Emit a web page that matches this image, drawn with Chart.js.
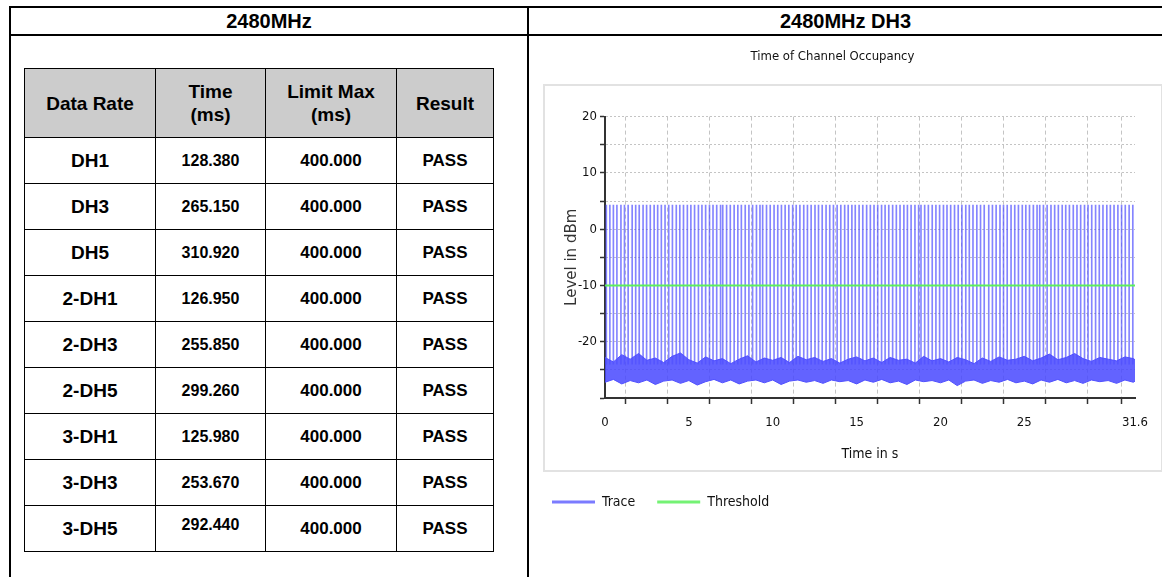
<!DOCTYPE html>
<html>
<head>
<meta charset="utf-8">
<script src="https://cdn.jsdelivr.net/npm/chart.js@4.4.0/dist/chart.umd.min.js"></script>
<style>
  body { margin: 0; background: #fff; width: 1162px; height: 577px; overflow: hidden; position: relative; font-family: 'Liberation Sans', Arial, sans-serif; }
  .rule { position: absolute; background: #000; }
  .head { position: absolute; top: 8px; height: 26px; line-height: 26px; text-align: center; font-weight: bold; font-size: 20px; color: #000; }
  table.res { position: absolute; left: 24px; top: 68px; border-collapse: collapse; table-layout: fixed; font-weight: bold; color: #000; }
  table.res td { border: 1px solid #000; text-align: center; padding: 0; }
  table.res tr.hdr td { background: #cccccc; height: 68px; font-size: 19px; line-height: 23px; }
  table.res tr.row td { height: 45px; }
  td.rate { font-size: 19px; }
  td.time { font-size: 16px; }
  td.limit { font-size: 17px; }
  td.result { font-size: 17px; }
  td.raised { vertical-align: top; padding-top: 10px !important; height: 35px !important; }
  #box { position: absolute; left: 543px; top: 84px; width: 616px; height: 384px; border: 2px solid #e2e2e2; background: #fff; }
  #chart { position: absolute; left: 530px; top: 40px; }
</style>
</head>
<body>
<div class="rule" style="left:9px;top:6px;width:1160px;height:2px"></div>
<div class="rule" style="left:9px;top:34px;width:1160px;height:2px"></div>
<div class="rule" style="left:9px;top:6px;width:2px;height:580px"></div>
<div class="rule" style="left:527px;top:6px;width:2px;height:580px"></div>
<div class="head" style="left:11px;width:516px">2480MHz</div>
<div class="head" style="left:529px;width:633px">2480MHz DH3</div>

<table class="res" id="results">
  <colgroup><col style="width:131px"><col style="width:110px"><col style="width:131px"><col style="width:97px"></colgroup>
  <tr class="hdr"><td>Data Rate</td><td>Time<br>(ms)</td><td>Limit Max<br>(ms)</td><td>Result</td></tr>
</table>

<div id="box"></div>
<canvas id="chart" width="632" height="537"></canvas>

<script>
// table values
const dataRates = ['DH1', 'DH3', 'DH5', '2-DH1', '2-DH3', '2-DH5', '3-DH1', '3-DH3', '3-DH5'];
const timesMs = ['128.380', '265.150', '310.920', '126.950', '255.850', '299.260', '125.980', '253.670', '292.440'];
const limitsMs = ['400.000', '400.000', '400.000', '400.000', '400.000', '400.000', '400.000', '400.000', '400.000'];
const results = ['PASS', 'PASS', 'PASS', 'PASS', 'PASS', 'PASS', 'PASS', 'PASS', 'PASS'];

// chart axes
const xTicks = [0, 2.5, 5, 7.5, 10, 12.5, 15, 17.5, 20, 22.5, 25, 27.5, 30, 31.6];
const xLabels = [0, 5, 10, 15, 20, 25, 31.6];
const yTicks = [-30, -25, -20, -15, -10, -5, 0, 5, 10, 15, 20];
const yLabels = [-20, -10, 0, 10, 20];

// burst positions in seconds
const pulseTimes = [
    0.08, 0.29, 0.50, 0.71, 0.95, 1.16, 1.38, 1.62, 1.83, 2.04,
    2.27, 2.48, 2.70, 2.93, 3.14, 3.36, 3.58, 3.80, 4.02, 4.25,
    4.46, 4.68, 4.91, 5.12, 5.34, 5.57, 5.78, 6.00, 6.23, 6.44,
    6.66, 6.89, 7.02, 7.25, 7.47, 7.70, 7.92, 8.13, 8.36, 8.58,
    8.80, 9.03, 9.24, 9.40, 9.63, 9.85, 10.08, 10.30, 10.52, 10.74,
    10.96, 11.19, 11.40, 11.62, 11.85, 12.07, 12.29, 12.52, 12.73, 12.95,
    13.18, 13.40, 13.62, 13.84, 14.06, 14.29, 14.50, 14.72, 14.92, 15.15,
    15.37, 15.60, 15.82, 16.04, 16.26, 16.49, 16.70, 16.92, 17.15, 17.37,
    17.59, 17.82, 18.03, 18.25, 18.48, 18.70, 18.84, 19.06, 19.28, 19.51,
    19.73, 19.95, 20.18, 20.39, 20.61, 20.84, 21.06, 21.28, 21.51, 21.72,
    21.94, 22.17, 22.39, 22.61, 22.88, 23.10, 23.32, 23.55, 23.76, 23.98,
    24.21, 24.43, 24.65, 24.88, 25.09, 25.31, 25.54, 25.76, 25.92, 26.14,
    26.36, 26.59, 26.81, 27.03, 27.26, 27.47, 27.69, 27.92, 28.14, 28.36,
    28.59, 28.80, 29.02, 29.25, 29.47, 29.69, 29.92, 30.13, 30.35, 30.58,
    30.80, 31.02, 31.25, 31.47
];
const pulseLevel = [-24, 4.3];   // floor -> peak, dBm

// noise floor envelope
const noiseTimes = [
    0, 0.5, 1, 1.5, 2, 2.5, 3, 3.5, 4, 4.5,
    5, 5.5, 6, 6.5, 7, 7.5, 8, 8.5, 9, 9.5,
    10, 10.5, 11, 11.5, 12, 12.5, 13, 13.5, 14, 14.5,
    15, 15.5, 16, 16.5, 17, 17.5, 18, 18.5, 19, 19.5,
    20, 20.5, 21, 21.5, 22, 22.5, 23, 23.5, 24, 24.5,
    25, 25.5, 26, 26.5, 27, 27.5, 28, 28.5, 29, 29.5,
    30, 30.5, 31, 31.5, 31.6
];
const noiseHigh = [
    -22.8, -23.6, -22.3, -23.1, -22.1, -23.3, -22.9, -23.7, -22.6, -22.0,
    -23.2, -23.8, -22.7, -23.4, -23.0, -23.9, -23.1, -22.5, -23.6, -22.9,
    -23.3, -22.8, -23.7, -22.6, -23.2, -22.8, -23.5, -23.0, -23.8, -23.1,
    -22.7, -23.4, -22.9, -23.7, -22.8, -23.3, -23.1, -23.8, -22.6, -23.4,
    -23.0, -23.6, -22.8, -23.2, -23.9, -22.9, -23.5, -22.7, -23.3, -23.1,
    -22.6, -23.4, -22.9, -22.2, -23.2, -22.8, -22.1, -23.0, -23.5, -22.8,
    -23.1, -23.4, -22.7, -23.0, -23.2
];
const noiseLow = [
    -27.2, -26.7, -27.5, -26.9, -27.3, -26.8, -27.6, -27.0, -26.8, -27.4,
    -26.9, -27.7, -27.1, -26.7, -27.3, -26.8, -27.5, -27.0, -26.8, -27.3,
    -26.8, -27.6, -27.0, -26.8, -27.2, -26.9, -27.4, -26.8, -27.1, -26.9,
    -27.5, -26.8, -27.2, -26.7, -27.3, -27.0, -27.6, -26.8, -27.1, -26.9,
    -27.3, -26.8, -27.8, -27.0, -26.8, -27.4, -26.9, -27.2, -26.7, -27.3,
    -27.0, -27.5, -26.8, -27.2, -26.7, -27.3, -26.9, -27.4, -26.8, -27.1,
    -26.9, -27.4, -26.8, -27.2, -27.0
];

const thresholdTimes = [0, 31.6];
const thresholdLevel = [-10, -10];

const legendNames = ['Trace', 'Threshold'];

// ---- result table ----
const table = document.getElementById('results');
dataRates.forEach((rate, i) => {
    const tr = document.createElement('tr');
    tr.className = 'row';
    const last = i === dataRates.length - 1;
    tr.innerHTML = `
        <td class="rate">${rate}</td>
        <td class="time${last ? ' raised' : ''}">${timesMs[i]}</td>
        <td class="limit">${limitsMs[i]}</td>
        <td class="result">${results[i]}</td>`;
    table.appendChild(tr);
});

// ---- chart ----
const NARROW = "'Liberation Sans Narrow', 'DejaVu Sans Condensed', sans-serif";
Chart.defaults.font.family = NARROW;
Chart.defaults.color = '#111';

const legendColors = ['#7b7bff', '#74f274'];

const ctx = document.getElementById('chart').getContext('2d');
new Chart(ctx, {
    type: 'line',
    data: {
        datasets: [
            {
                type: 'bar',
                label: 'Trace',
                data: pulseTimes.map(t => ({ x: t, y: pulseLevel })),
                backgroundColor: 'rgba(80, 80, 255, 0.7)',
                borderWidth: 0,
                barThickness: 1
            },
            {
                label: 'noise-high',
                data: noiseTimes.map((t, i) => ({ x: t, y: noiseHigh[i] })),
                borderColor: '#5050ff',
                borderWidth: 1,
                pointRadius: 0,
                fill: false
            },
            {
                label: 'noise-low',
                data: noiseTimes.map((t, i) => ({ x: t, y: noiseLow[i] })),
                borderColor: '#5050ff',
                backgroundColor: 'rgba(72, 72, 255, 0.85)',
                borderWidth: 1,
                pointRadius: 0,
                fill: '-1'
            },
            {
                label: 'Threshold',
                data: thresholdTimes.map((t, i) => ({ x: t, y: thresholdLevel[i] })),
                borderColor: '#5cf05c',
                backgroundColor: '#5cf05c',
                borderWidth: 2,
                pointRadius: 0,
                order: -1
            }
        ]
    },
    options: {
        responsive: false,
        animation: false,
        devicePixelRatio: 1,
        layout: { padding: { left: 0, right: 27, top: 0, bottom: 58 } },
        plugins: {
            title: {
                display: true,
                text: 'Time of Channel Occupancy',
                color: '#111',
                font: { size: 13, weight: 'normal' },
                padding: { top: 9, bottom: 52 }
            },
            legend: {
                position: 'bottom',
                align: 'start',
                labels: {
                    boxWidth: 43,
                    boxHeight: 3,
                    padding: 22,
                    color: '#111',
                    font: { size: 14 },
                    generateLabels: chart => Chart.defaults.plugins.legend.labels.generateLabels(chart)
                        .filter(it => legendNames.includes(it.text))
                        .sort((a, b) => a.datasetIndex - b.datasetIndex)
                        .map(it => Object.assign(it, { lineWidth: 0, fillStyle: legendColors[legendNames.indexOf(it.text)] }))
                }
            },
            tooltip: { enabled: false }
        },
        scales: {
            x: {
                type: 'linear',
                min: 0,
                max: 31.6,
                offset: false,
                afterBuildTicks: s => { s.ticks = xTicks.map(v => ({ value: v })); },
                afterFit: s => { s.height = 75; },
                ticks: {
                    autoSkip: false,
                    maxRotation: 0,
                    padding: 11,
                    color: '#111',
                    font: { size: 13 },
                    callback: v => xLabels.includes(v) ? String(v) : ''
                },
                grid: { color: '#c4c4c4', lineWidth: 1, tickColor: '#333', tickLength: 6, tickWidth: 1.5, tickBorderDash: [] },
                border: { color: '#333', width: 2, dash: [4, 3] },
                title: { display: true, text: 'Time in s', color: '#111', font: { size: 14 }, padding: { top: 0, bottom: 10 } }
            },
            y: {
                type: 'linear',
                min: -30,
                max: 20,
                afterBuildTicks: s => { s.ticks = yTicks.map(v => ({ value: v })); },
                afterFit: s => { s.width = 75; },
                ticks: {
                    autoSkip: false,
                    padding: 3,
                    color: '#111',
                    font: { size: 13 },
                    callback: v => yLabels.includes(v) ? String(v) : ''
                },
                grid: { color: '#c4c4c4', lineWidth: 1, tickColor: '#333', tickLength: 5, tickWidth: 1.5, tickBorderDash: [] },
                border: { color: '#333', width: 2, dash: [2, 2] },
                title: {
                    display: true,
                    text: 'Level in dBm',
                    color: '#333',
                    font: { family: "'DejaVu Sans', sans-serif", size: 15 },
                    padding: { top: 33, bottom: 0 }
                }
            }
        }
    }
});
</script>
</body>
</html>
